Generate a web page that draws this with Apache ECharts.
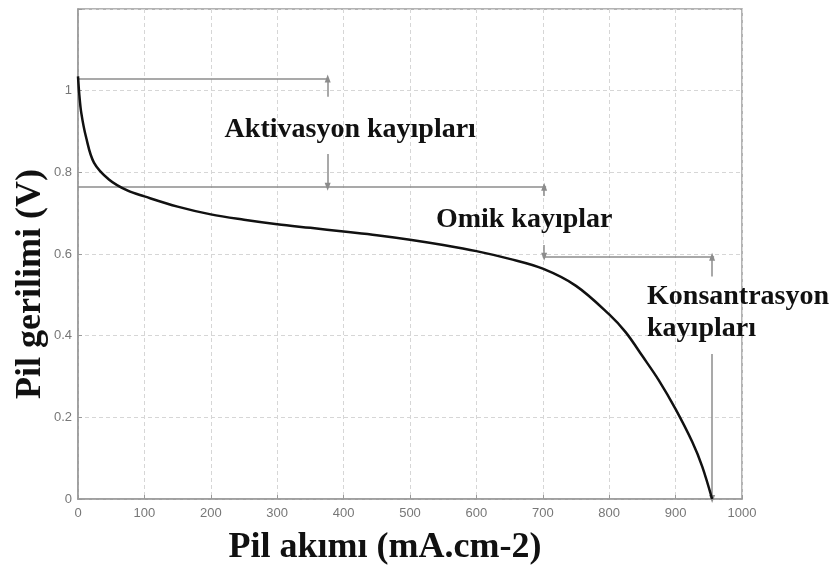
<!DOCTYPE html>
<html>
<head>
<meta charset="utf-8">
<script src="https://cdn.jsdelivr.net/npm/echarts@6/dist/echarts.min.js"></script>
<style>
  html, body { margin: 0; padding: 0; background: #fff; }
  #chart { width: 835px; height: 567px; }
</style>
</head>
<body>
<div id="chart"></div>
<script>
// Polarisation curve: current density (mA/cm2) vs cell voltage (V)
const currentDensity = [0, 2, 5, 12, 24, 47, 75, 100, 150, 200, 250, 300, 350, 400, 450, 500, 550, 600, 650, 700, 750, 800, 825, 850, 875, 900, 925, 940, 955];
const cellVoltage    = [1.035, 0.99, 0.945, 0.887, 0.824, 0.782, 0.755, 0.741, 0.716, 0.697, 0.684, 0.673, 0.664, 0.655, 0.646, 0.635, 0.622, 0.607, 0.588, 0.564, 0.522, 0.452, 0.408, 0.35, 0.29, 0.22, 0.14, 0.08, 0.0];

// Loss region boundaries (voltage levels) and where each bracket sits along x
const openCircuitLevel = 1.03;
const activationLevel = 0.765;
const ohmicLevel = 0.593;
const bracketX = [376, 702, 955];

const xTicks = [0, 100, 200, 300, 400, 500, 600, 700, 800, 900, 1000];
const yTicks = [0, 0.2, 0.4, 0.6, 0.8, 1];

const xTitle = 'Pil akımı (mA.cm-2)';
const yTitle = 'Pil gerilimi (V)';
const labelTexts = ['Aktivasyon kayıpları', 'Omik kayıplar', 'Konsantrasyon\nkayıpları'];
// anchor [x, V] of each label; first two centred, the last one left-aligned
const labelAnchors = [[410, 0.905], [672, 0.685], [857, 0.455]];
const labelAlign = ['center', 'center', 'left'];

const serif = '"Liberation Serif", "DejaVu Serif", serif';
const sans = 'Arial, "Liberation Sans", sans-serif';
const guideColor = '#8c8c8c';

function segment(x1, y1, x2, y2, arrowEnd) {
  return [
    { coord: [x1, y1], symbol: 'none' },
    { coord: [x2, y2], symbol: arrowEnd ? 'triangle' : 'none', symbolSize: [6, 8] }
  ];
}

const guideLines = [
  // horizontal level lines
  segment(0, openCircuitLevel, 378, openCircuitLevel, false),
  segment(0, activationLevel, 705, activationLevel, false),
  segment(700, ohmicLevel, 958, ohmicLevel, false),
  // activation bracket
  segment(bracketX[0], 0.985, bracketX[0], openCircuitLevel, true),
  segment(bracketX[0], 0.845, bracketX[0], activationLevel, true),
  // ohmic bracket
  segment(bracketX[1], 0.742, bracketX[1], activationLevel, true),
  segment(bracketX[1], 0.622, bracketX[1], ohmicLevel, true),
  // concentration bracket
  segment(bracketX[2], 0.545, bracketX[2], ohmicLevel, true),
  segment(bracketX[2], 0.355, bracketX[2], 0, true)
];

const chart = echarts.init(document.getElementById('chart'), null, { renderer: 'canvas' });

chart.setOption({
  animation: false,
  backgroundColor: '#ffffff',
  grid: {
    left: 78, right: 93, top: 9, bottom: 68,
    outerBoundsMode: 'none',
    containLabel: false,
    show: true, borderColor: '#9a9a9a', borderWidth: 1.5
  },
  xAxis: {
    type: 'value', min: 0, max: 1000, interval: 100,
    axisLine: { show: true, lineStyle: { color: '#9a9a9a', width: 1.5 } },
    axisTick: { show: true, inside: true, length: 4, lineStyle: { color: '#9a9a9a' } },
    axisLabel: {
      color: '#777', fontSize: 13, fontFamily: sans, margin: 8,
      formatter: function (v) {
        const hit = xTicks.find(t => Math.abs(t - v) < 1e-6);
        return hit === undefined ? '' : String(hit);
      }
    },
    splitLine: { show: true, lineStyle: { color: '#d6d6d6', type: [4, 3], width: 1 } }
  },
  yAxis: {
    type: 'value', min: 0, max: 1.2, interval: 0.2,
    axisLine: { show: true, lineStyle: { color: '#9a9a9a', width: 1.5 } },
    axisTick: { show: true, inside: true, length: 4, lineStyle: { color: '#9a9a9a' } },
    axisLabel: {
      color: '#777', fontSize: 13, fontFamily: sans, margin: 6,
      formatter: function (v) {
        const hit = yTicks.find(t => Math.abs(t - v) < 1e-6);
        return hit === undefined ? '' : String(hit);
      }
    },
    splitLine: { show: true, lineStyle: { color: '#d6d6d6', type: [4, 3], width: 1 } }
  },
  series: [
    {
      name: 'Polarizasyon',
      type: 'line',
      smooth: 0.35,
      showSymbol: false,
      data: currentDensity.map((x, i) => [x, cellVoltage[i]]),
      lineStyle: { color: '#111', width: 2.5 },
      z: 5,
      markLine: {
        silent: true,
        animation: false,
        label: { show: false },
        lineStyle: { color: guideColor, width: 1.5, type: 'solid' },
        data: guideLines
      }
    }
  ]
});

// Axis titles and loss labels, placed from data coordinates of the grid
const grid = chart.getModel().getComponent('grid').coordinateSystem.getRect();
const titleFont = 'bold 36px ' + serif;
const labelFont = 'bold 28px ' + serif;

const graphics = [
  {
    type: 'text',
    x: grid.x + grid.width / 2 - 25,
    y: 548,
    style: { text: xTitle, font: titleFont, fill: '#111', align: 'center', verticalAlign: 'middle' }
  },
  {
    type: 'text',
    x: 31,
    y: grid.y + grid.height / 2 + 30,
    rotation: Math.PI / 2,
    style: { text: yTitle, font: titleFont, fill: '#111', align: 'center', verticalAlign: 'middle' }
  }
];

labelAnchors.forEach(function (p, i) {
  const px = chart.convertToPixel({ gridIndex: 0 }, p);
  graphics.push({
    type: 'text',
    x: px[0],
    y: px[1],
    z: 10,
    style: {
      text: labelTexts[i], font: labelFont, fill: '#111',
      align: labelAlign[i], verticalAlign: 'middle', lineHeight: 32
    }
  });
});

chart.setOption({ graphic: graphics });
</script>
</body>
</html>
